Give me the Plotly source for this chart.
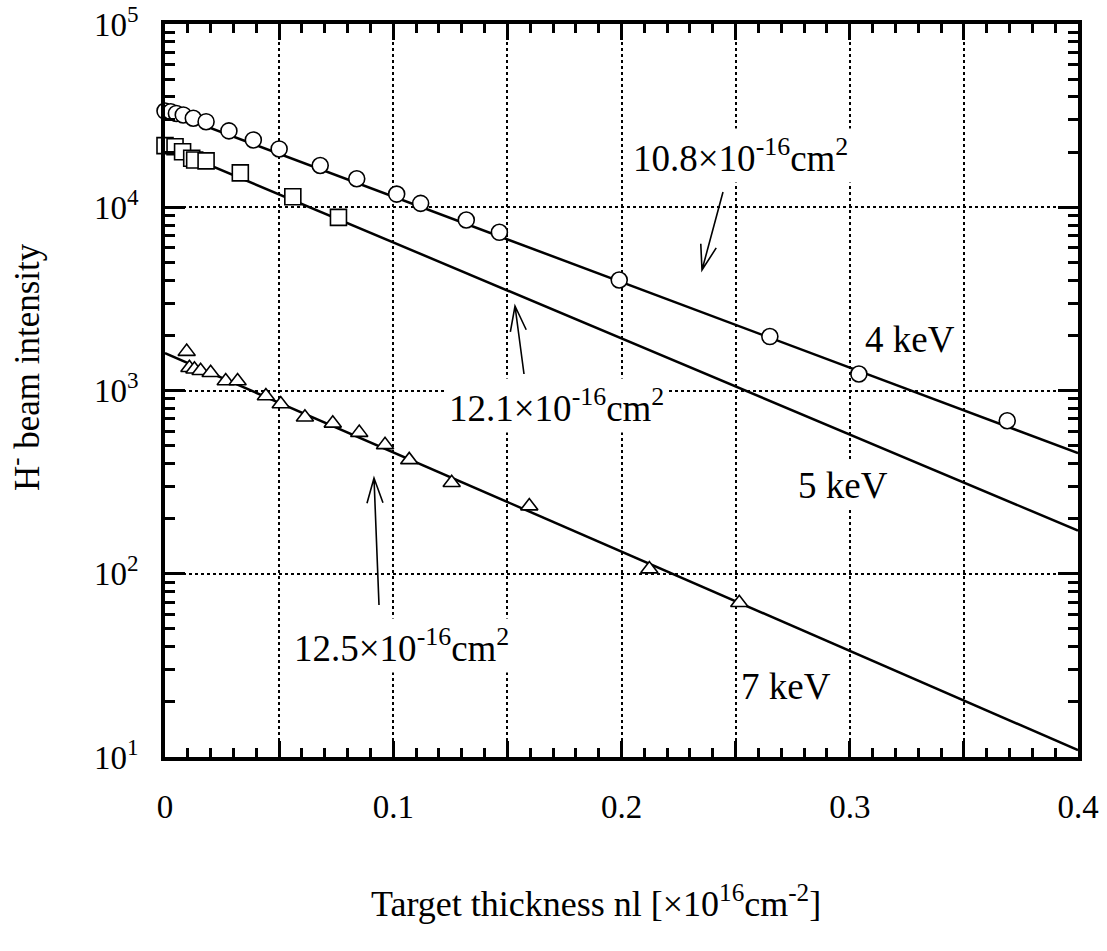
import plotly.graph_objects as go

# ---------------- data ----------------
x_4keV = [0.0, 0.0025, 0.005, 0.008, 0.0124, 0.018, 0.028, 0.0387, 0.050, 0.068,
          0.084, 0.1015, 0.112, 0.132, 0.1465, 0.199, 0.265, 0.304, 0.369]
y_4keV = [33500, 33200, 32500, 31900, 30600, 29300, 26100, 23300, 20800, 16900,
          14300, 11800, 10500, 8520, 7300, 4010, 1970, 1230, 684]

x_5keV = [0.0, 0.0044, 0.0077, 0.0117, 0.013, 0.018, 0.033, 0.056, 0.076]
y_5keV = [21700, 21400, 20100, 18500, 18100, 17900, 15400, 11400, 8810]

x_7keV = [0.0095, 0.0107, 0.0129, 0.0156, 0.020, 0.0266, 0.0318, 0.0442, 0.0507,
          0.0613, 0.0735, 0.0851, 0.0964, 0.107, 0.1256, 0.1596, 0.2122, 0.2516]
y_7keV = [1630, 1330, 1306, 1282, 1250, 1127, 1127, 933, 844,
          714, 662, 589, 505, 418, 314, 234, 106, 69.5]

fit_x = [0.0, 0.4]
fit_4keV = [33500, 455]
fit_5keV = [21500, 172]
fit_7keV = [1600, 10.9]

x_tickvals = [0, 0.05, 0.1, 0.15, 0.2, 0.25, 0.3, 0.35, 0.4]
x_ticktext = ["0", "", "0.1", "", "0.2", "", "0.3", "", "0.4"]
y_tickvals = [10, 100, 1000, 10000, 100000]
y_ticktext = ["10<sup>1</sup>", "10<sup>2</sup>", "10<sup>3</sup>", "10<sup>4</sup>", "10<sup>5</sup>"]

# ---------------- layout geometry ----------------
W, H = 1107, 951
L, R, T, B = 165, 1078, 24, 757
FONT = "Liberation Serif"


def X(px):
    return (px - L) / (R - L)


def Y(py):
    return (B - py) / (B - T)


fig = go.Figure()

for ys in (fit_4keV, fit_5keV, fit_7keV):
    fig.add_trace(go.Scatter(x=fit_x, y=ys, mode="lines",
                             line=dict(color="black", width=2.5),
                             showlegend=False, hoverinfo="skip"))

marker_line = dict(color="black", width=1.6)
fig.add_trace(go.Scatter(x=x_4keV, y=y_4keV, mode="markers", cliponaxis=False,
                         marker=dict(symbol="circle", size=16, color="white", line=marker_line),
                         showlegend=False))
fig.add_trace(go.Scatter(x=x_5keV, y=y_5keV, mode="markers", cliponaxis=False,
                         marker=dict(symbol="square", size=16, color="white", line=marker_line),
                         showlegend=False))
fig.add_trace(go.Scatter(x=x_7keV, y=y_7keV, mode="markers", cliponaxis=False,
                         marker=dict(symbol="triangle-up", size=15, color="white", line=marker_line),
                         showlegend=False))

# ---------------- annotations ----------------
ann = []


def label(text, cx, cy, size=37, bg="white"):
    ann.append(dict(text=text, x=X(cx), y=Y(cy), xref="paper", yref="paper",
                    xanchor="center", yanchor="middle", showarrow=False,
                    font=dict(family=FONT, size=size, color="black"),
                    bgcolor=bg, borderpad=3))


label("10.8×10<sup>-16</sup>cm<sup>2</sup>", 740, 156)
label("12.1×10<sup>-16</sup>cm<sup>2</sup>", 556, 405)
label("12.5×10<sup>-16</sup>cm<sup>2</sup>", 401, 645)
label("4 keV", 910, 339)
label("5 keV", 843, 485)
label("7 keV", 786, 686)

# axis titles
ann.append(dict(text="Target thickness nl [×10<sup>16</sup>cm<sup>-2</sup>]",
                x=X(596), y=Y(901), xref="paper", yref="paper",
                xanchor="center", yanchor="middle", showarrow=False,
                font=dict(family=FONT, size=36, color="black")))
ann.append(dict(text="H<sup>-</sup> beam intensity", textangle=-90,
                x=X(24), y=Y(367), xref="paper", yref="paper",
                xanchor="center", yanchor="middle", showarrow=False,
                font=dict(family=FONT, size=35, color="black")))

# ---------------- arrows (open V heads) ----------------
shapes = []


def arrow(tail, tip, head=25, half=8):
    tx, ty = tail
    hx, hy = tip
    dx, dy = hx - tx, hy - ty
    n = (dx * dx + dy * dy) ** 0.5
    ux, uy = dx / n, dy / n
    bx, by = hx - head * ux, hy - head * uy
    px_, py_ = -uy, ux
    b1 = (bx + half * px_, by + half * py_)
    b2 = (bx - half * px_, by - half * py_)
    path = (f"M{X(tx)},{Y(ty)} L{X(hx)},{Y(hy)} "
            f"M{X(b1[0])},{Y(b1[1])} L{X(hx)},{Y(hy)} L{X(b2[0])},{Y(b2[1])}")
    shapes.append(dict(type="path", path=path, xref="paper", yref="paper",
                       line=dict(color="black", width=1.6)))


arrow((723, 192), (702, 270))
arrow((524, 374), (515, 306))
arrow((379, 605), (374, 478))

fig.update_layout(
    width=W, height=H,
    margin=dict(l=L, r=W - R, t=T, b=H - B, pad=0, autoexpand=False),
    paper_bgcolor="white", plot_bgcolor="white",
    annotations=ann, shapes=shapes,
    showlegend=False,
    font=dict(family=FONT, color="black"),
)

fig.update_xaxes(
    range=[0, 0.4], showline=True, linecolor="black", linewidth=3.5,
    mirror="allticks", ticks="inside", ticklen=16, tickwidth=3, tickcolor="black",
    tickmode="array", tickvals=x_tickvals, ticktext=x_ticktext,
    tickfont=dict(family=FONT, size=33, color="black"),
    ticklabelstandoff=18, automargin=False,
    showgrid=True, gridcolor="black", gridwidth=1.5, griddash="dot",
    zeroline=False,
    minor=dict(ticks="inside", ticklen=9, tickwidth=2.5, tickcolor="black",
               dtick=0.01, tick0=0, showgrid=False),
)
fig.update_yaxes(
    type="log", range=[1, 5], showline=True, linecolor="black", linewidth=3.5,
    mirror="allticks", ticks="inside", ticklen=20, tickwidth=3, tickcolor="black",
    tickmode="array", tickvals=y_tickvals, ticktext=y_ticktext,
    tickfont=dict(family=FONT, size=33, color="black"),
    ticklabelstandoff=16, automargin=False,
    showgrid=True, gridcolor="black", gridwidth=1.5, griddash="dot",
    zeroline=False,
    minor=dict(ticks="inside", ticklen=10, tickwidth=2.5, tickcolor="black",
               dtick="D1", showgrid=False),
)

fig.write_html("out.html")
